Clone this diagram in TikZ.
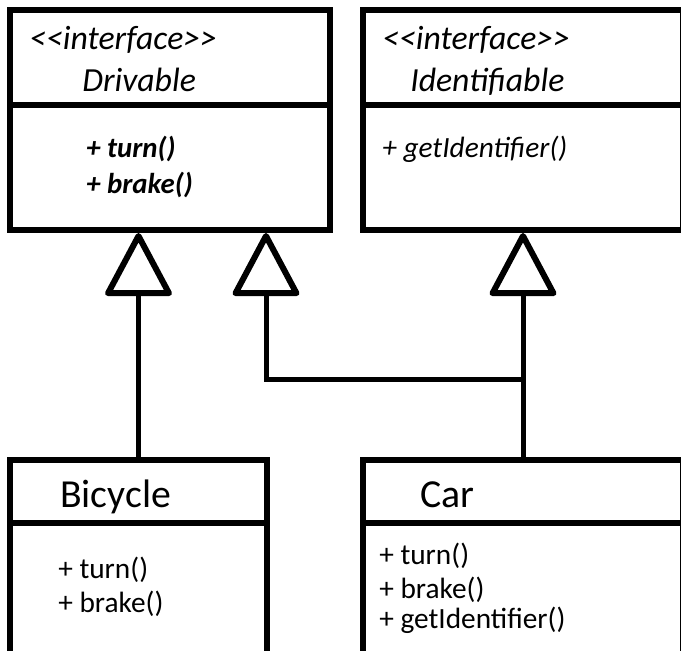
\documentclass[tikz,border=0pt]{standalone}
\usepackage{fontspec}
\setmainfont{Carlito}
\usetikzlibrary{arrows.meta, calc}

% one unit = one pixel, y running downwards
\tikzset{
  classbox/.style={draw, line width=4.5pt, minimum width=240pt, minimum height=180pt},
  divider/.style={line width=4.5pt},
  realize/.style={line width=3.75pt, -{Triangle[open, length=50pt, width=52pt, line width=4.5pt, line join=round]}},
  txt/.style={anchor=base west, inner sep=0pt},
  ifacefont/.style={font=\fontsize{25.3}{30}\selectfont\itshape},
  opfont/.style={font=\fontsize{22}{26}\selectfont},
  namefont/.style={font=\fontsize{29.8}{36}\selectfont},
}

\begin{document}
\begin{tikzpicture}[x=0.75pt, y=-0.75pt]
  \useasboundingbox[fill=white] (0,0) rectangle (681,650);
  \clip (0,0) rectangle (681,650);

  % interfaces
  \node[classbox, minimum height=165pt] (drivable) at (170,120) {};
  \node[classbox, minimum height=165pt] (identifiable) at (523,120) {};
  \draw[divider] ($(drivable.north west)+(0,98)$) -- ($(drivable.north east)+(0,98)$);
  \draw[divider] ($(identifiable.north west)+(0,98)$) -- ($(identifiable.north east)+(0,98)$);

  \node[txt, ifacefont] (dstereo) at (29,49) {{<}{<}interface{>}{>}};
  \node[txt, ifacefont] (dname) at (82,91) {Drivable};
  \node[txt, font=\fontsize{21.6}{26}\selectfont\bfseries\itshape] (dturn) at (86,157) {+ turn()};
  \node[txt, font=\fontsize{21.6}{26}\selectfont\bfseries\itshape] (dbrake) at (86,193) {+ brake()};

  \node[txt, ifacefont] (istereo) at (382,49) {{<}{<}interface{>}{>}};
  \node[txt, ifacefont] (iname) at (410,91) {Identifiable};
  \node[txt, font=\fontsize{22}{26}\selectfont\itshape] (iget) at (382,157) {+ getIdentifier()};

  % classes
  \node[classbox, minimum width=192.75pt] (bicycle) at (138.5,580) {};
  \node[classbox] (car) at (523,580) {};
  \draw[divider] ($(bicycle.north west)+(0,66)$) -- ($(bicycle.north east)+(0,66)$);
  \draw[divider] ($(car.north west)+(0,66)$) -- ($(car.north east)+(0,66)$);

  \node[txt, namefont] (bname) at (60,507) {Bicycle};
  \node[txt, opfont] (bturn) at (58,578) {+ turn()};
  \node[txt, opfont] (bbrake) at (58,612) {+ brake()};

  \node[txt, namefont] (cname) at (420,507) {Car};
  \node[txt, opfont] (cturn) at (379,564) {+ turn()};
  \node[txt, opfont] (cbrake) at (379,598) {+ brake()};
  \node[txt, opfont] (cget) at (379,628) {+ getIdentifier()};

  % realizations
  \coordinate (join) at ($(car.north)+(0,-78)$);
  \draw[realize] (bicycle.north) -- (bicycle.north |- drivable.south);
  \draw[realize] (car.north) -- (car.north |- identifiable.south);
  \draw[realize] (join) -| ($(drivable.south east)+(-67,0)$);
\end{tikzpicture}
\end{document}
